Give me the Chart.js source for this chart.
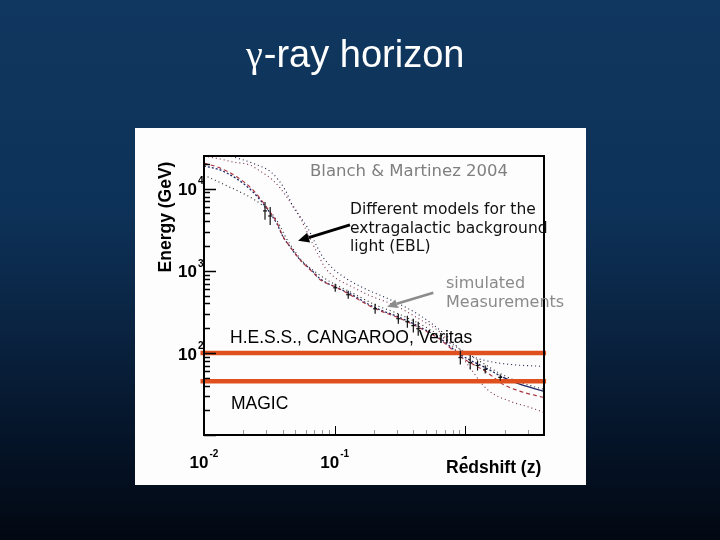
<!DOCTYPE html>
<html>
<head>
<meta charset="utf-8">
<script src="https://cdn.jsdelivr.net/npm/chart.js@4.4.1/dist/chart.umd.min.js"></script>
<style>
  html, body { margin: 0; padding: 0; background: #0a2340; }
  #wrap { position: relative; width: 720px; height: 540px; }
  canvas { position: absolute; left: 0; top: 0; }
</style>
</head>
<body>
<div id="wrap"><canvas id="c" width="720" height="540"></canvas></div>
<script>
// ---------------- DATA ----------------
const modelA_z = [0.01, 0.0133, 0.0179, 0.0237, 0.0304, 0.0362, 0.0403, 0.0456, 0.0544, 0.0684, 0.0774, 0.1045, 0.131, 0.197, 0.318, 0.428, 0.643, 0.916, 1.47, 1.95, 2.64, 4.0];
const modelA_E = [18900, 16900, 13100, 9120, 5670, 3720, 2590, 1960, 1360, 973, 800, 621, 526, 365, 268, 215, 149, 95.5, 64.4, 50.3, 41.3, 34.0];

const modelR_z = [0.01, 0.0133, 0.0179, 0.0237, 0.0304, 0.0362, 0.0403, 0.0456, 0.0544, 0.0684, 0.0774, 0.1045, 0.131, 0.197, 0.318, 0.428, 0.643, 0.916, 1.47, 1.95, 2.64, 4.0];
const modelR_E = [20500, 17850, 13870, 9640, 5830, 3830, 2590, 1960, 1360, 946, 778, 621, 511, 355, 261, 209, 145, 90.2, 57.6, 41.3, 34.0, 28.6];

const modelB_z = [0.01, 0.0158, 0.0246, 0.0332, 0.0418, 0.0481, 0.0544, 0.0615, 0.0709, 0.0802, 0.0957, 0.120, 0.171, 0.266, 0.452, 0.703, 0.916, 1.19, 1.55, 2.21, 4.0];
const modelB_E = [29500, 24900, 19900, 15500, 9640, 6000, 4530, 3425, 2190, 1520, 1087, 822, 604, 445, 284, 167, 110, 87.7, 78.5, 72.3, 68.4];

const modelC_z = [0.01, 0.0133, 0.0167, 0.0225, 0.0268, 0.0321, 0.0382, 0.0456, 0.0516, 0.0594, 0.0673, 0.0748, 0.0846, 0.101, 0.131, 0.187, 0.291, 0.452, 0.643, 0.838, 1.0, 1.47, 2.21, 3.15, 4.0];
const modelC_E = [24900, 22960, 21100, 19400, 16400, 13500, 10200, 6890, 5210, 3330, 2190, 1560, 1087, 822, 657, 497, 376, 254, 177, 110, 78.5, 35.9, 25.7, 21.6, 18.8];

const modelD_z = [0.01, 0.0145, 0.0217, 0.0278, 0.0332, 0.0382, 0.0424, 0.0481, 0.0563, 0.0709, 0.0924, 0.131, 0.204, 0.318, 0.540, 0.916, 1.30, 1.85, 2.64, 4.0];
const modelD_E = [14660, 11090, 8150, 6340, 4930, 3520, 2520, 1850, 1323, 973, 735, 556, 386, 292, 192, 110, 78.5, 56, 43.7, 35.9];

// simulated measurements: redshift, energy, low, high
const meas_z    = [0.0293, 0.0321, 0.101, 0.127, 0.204, 0.307, 0.360, 0.400, 0.436, 0.916, 1.09, 1.24, 1.42, 1.85];
const meas_E    = [5360, 4650, 621, 511, 345, 261, 240, 215, 197, 87.7, 76.2, 70.3, 62.9, 50.3];
const meas_Elo  = [4170, 3620, 556, 457, 300, 227, 203, 177, 162, 72.3, 62.9, 61, 56, 46];
const meas_Ehi  = [6890, 6000, 695, 571, 397, 300, 284, 261, 240, 107, 92.7, 80.7, 70.3, 54.7];

// experiment energy thresholds (GeV)
const thresholdE = [100, 45];
const thresholdZ = [0.0094, 4.15];

// axis ticks
const xTickValues = [0.01, 0.1, 1];
const xTickBase   = ['10', '10', '1'];
const xTickExp    = ['-2', '-1', ''];
const yTickValues = [10000, 1000, 100];
const yTickBase   = ['10', '10', '10'];
const yTickExp    = ['4', '3', '2'];

// annotation arrows (data coords): [z0, E0, z1, E1]
const arrowEBL  = [0.131, 3620, 0.0525, 2316];
const arrowMeas = [0.569, 541, 0.252, 365];

// ---------------- BUILD ----------------
const pts = (zs, es) => zs.map((z, i) => ({ x: z, y: es[i] }));
const SANS = '"Liberation Sans", Arial, sans-serif';
const VERD = '"DejaVu Sans", Verdana, sans-serif';

const bgPlugin = {
  id: 'bg',
  beforeDraw(chart) {
    const ctx = chart.ctx;
    const g = ctx.createLinearGradient(0, 0, 0, 540);
    g.addColorStop(0, '#10375f');
    g.addColorStop(0.38, '#0d3259');
    g.addColorStop(0.6, '#0a2442');
    g.addColorStop(0.8, '#05152a');
    g.addColorStop(1, '#020812');
    ctx.save();
    ctx.fillStyle = g;
    ctx.fillRect(0, 0, 720, 540);
    ctx.fillStyle = '#fdfdfd';
    ctx.fillRect(135, 128, 451, 357);
    // title
    ctx.fillStyle = '#ffffff';
    ctx.textBaseline = 'alphabetic';
    ctx.font = '38px "Liberation Serif", "DejaVu Serif", serif';
    const gw = ctx.measureText('γ').width;
    ctx.fillText('γ', 246, 67);
    ctx.font = '38px ' + SANS;
    ctx.fillText('-ray horizon', 246 + gw + 1, 67);
    ctx.restore();
  }
};

function arrow(ctx, xs, ys, a, color, lw, hl, hw) {
  const x0 = xs.getPixelForValue(a[0]), y0 = ys.getPixelForValue(a[1]);
  const x1 = xs.getPixelForValue(a[2]), y1 = ys.getPixelForValue(a[3]);
  const ang = Math.atan2(y1 - y0, x1 - x0);
  const bx = x1 - hl * Math.cos(ang), by = y1 - hl * Math.sin(ang);
  ctx.save();
  ctx.strokeStyle = color; ctx.fillStyle = color; ctx.lineWidth = lw;
  ctx.beginPath(); ctx.moveTo(x0, y0); ctx.lineTo(bx, by); ctx.stroke();
  ctx.beginPath();
  ctx.moveTo(x1, y1);
  ctx.lineTo(bx + hw * Math.sin(ang), by - hw * Math.cos(ang));
  ctx.lineTo(bx - hw * Math.sin(ang), by + hw * Math.cos(ang));
  ctx.closePath(); ctx.fill();
  ctx.restore();
}

const decoPlugin = {
  id: 'deco',
  afterDatasetsDraw(chart) {
    const ctx = chart.ctx, xs = chart.scales.x, ys = chart.scales.y, ca = chart.chartArea;
    ctx.save();
    // error bars
    ctx.strokeStyle = '#111'; ctx.lineWidth = 1.2;
    meas_z.forEach((z, i) => {
      const px = xs.getPixelForValue(z);
      const pl = ys.getPixelForValue(meas_Elo[i]);
      const ph = ys.getPixelForValue(meas_Ehi[i]);
      const pc = ys.getPixelForValue(meas_E[i]);
      ctx.beginPath(); ctx.moveTo(px, pl); ctx.lineTo(px, ph); ctx.stroke();
      ctx.beginPath(); ctx.moveTo(px - 2, pc); ctx.lineTo(px + 2, pc); ctx.stroke();
    });
    ctx.restore();
  },
  afterDraw(chart) {
    const ctx = chart.ctx, xs = chart.scales.x, ys = chart.scales.y, ca = chart.chartArea;
    ctx.save();
    // ticks (inside)
    ctx.strokeStyle = '#000'; ctx.lineWidth = 1.5;
    for (let d = 1; d <= 4; d++) {
      for (let m = 1; m <= 9; m++) {
        const v = m * Math.pow(10, d);
        if (v > ys.max) break;
        const py = Math.round(ys.getPixelForValue(v)) + 0.5;
        const len = (m === 1) ? 12 : 6;
        ctx.beginPath(); ctx.moveTo(ca.left, py); ctx.lineTo(ca.left + len, py); ctx.stroke();
      }
    }
    ctx.lineWidth = 1;
    for (let d = -2; d <= 0; d++) {
      for (let m = 1; m <= 9; m++) {
        const v = m * Math.pow(10, d);
        if (v > xs.max) break;
        const px = Math.round(xs.getPixelForValue(v)) + 0.5;
        const len = (m === 1) ? 9 : 5;
        ctx.strokeStyle = (m === 1) ? '#000' : '#999';
        ctx.beginPath(); ctx.moveTo(px, ca.bottom); ctx.lineTo(px, ca.bottom - len); ctx.stroke();
      }
    }
    // frame
    ctx.strokeStyle = '#000'; ctx.lineWidth = 2;
    ctx.strokeRect(ca.left, ca.top, ca.right - ca.left, ca.bottom - ca.top);

    // tick labels
    ctx.fillStyle = '#000';
    ctx.textBaseline = 'middle';
    yTickValues.forEach((v, i) => {
      const py = ys.getPixelForValue(v);
      ctx.font = 'bold 17px ' + SANS;
      ctx.textAlign = 'left';
      ctx.fillText(yTickBase[i], 178, py + 2);
      const w = ctx.measureText(yTickBase[i]).width;
      ctx.font = 'bold 10px ' + SANS;
      ctx.fillText(yTickExp[i], 178 + w + 1, py - 7);
    });
    xTickValues.forEach((v, i) => {
      const px = xs.getPixelForValue(v);
      ctx.font = 'bold 17px ' + SANS;
      const w = ctx.measureText(xTickBase[i]).width;
      ctx.font = 'bold 10px ' + SANS;
      const we = xTickExp[i] ? ctx.measureText(xTickExp[i]).width + 1 : 0;
      const x0 = px - (w + we) / 2;
      ctx.textAlign = 'left';
      ctx.font = 'bold 17px ' + SANS;
      ctx.fillText(xTickBase[i], x0, 463);
      if (xTickExp[i]) {
        ctx.font = 'bold 10px ' + SANS;
        ctx.fillText(xTickExp[i], x0 + w + 1, 454);
      }
    });

    // axis titles
    ctx.font = 'bold 17.5px ' + SANS;
    ctx.fillStyle = '#fdfdfd';
    ctx.fillRect(446, 459, 98, 18);
    ctx.fillStyle = '#000';
    ctx.textAlign = 'left';
    ctx.fillText('Redshift (z)', 446, 468);
    ctx.save();
    ctx.translate(166, 217);
    ctx.rotate(-Math.PI / 2);
    ctx.textAlign = 'center';
    ctx.fillText('Energy (GeV)', 0, 0);
    ctx.restore();

    // annotations
    ctx.textAlign = 'left';
    ctx.font = '16.5px ' + VERD;
    ctx.fillStyle = '#7f7f7f';
    ctx.fillText('Blanch & Martinez 2004', 310, 172);
    ctx.font = '15.5px ' + VERD;
    ctx.fillStyle = '#111';
    ctx.fillText('Different models for the', 350, 210);
    ctx.fillText('extragalactic background', 350, 229);
    ctx.fillText('light (EBL)', 350, 247);
    ctx.font = '16px ' + VERD;
    ctx.fillStyle = '#8a8a8a';
    ctx.fillText('simulated', 446, 284);
    ctx.fillText('Measurements', 446, 303);
    ctx.font = '17.5px ' + SANS;
    ctx.fillStyle = '#000';
    ctx.fillText('H.E.S.S., CANGAROO, Veritas', 230, 338);
    ctx.fillText('MAGIC', 231, 404);

    arrow(ctx, xs, ys, arrowEBL, '#000', 3, 11, 5);
    arrow(ctx, xs, ys, arrowMeas, '#8c8c8c', 2.5, 10, 4.5);
    ctx.restore();
  }
};

const lineDefaults = { showLine: true, pointRadius: 0, fill: false, tension: 0.35, cubicInterpolationMode: 'monotone' };

const datasets = [
  Object.assign({}, lineDefaults, { label: 'Threshold H.E.S.S./CANGAROO/Veritas', data: pts(thresholdZ, [thresholdE[0], thresholdE[0]]), borderColor: '#e0501e', borderWidth: 4.5, clip: false, tension: 0, order: 0 }),
  Object.assign({}, lineDefaults, { label: 'Threshold MAGIC', data: pts(thresholdZ, [thresholdE[1], thresholdE[1]]), borderColor: '#e0501e', borderWidth: 4.5, clip: false, tension: 0, order: 0 }),
  Object.assign({}, lineDefaults, { label: 'Model A', data: pts(modelA_z, modelA_E), borderColor: '#1c2466', borderWidth: 1.3, borderDash: [2, 2],
    segment: { borderDash: c => (c.p0.parsed.x >= 1.8 ? [] : [2, 2]) }, order: 2 }),
  Object.assign({}, lineDefaults, { label: 'Model R', data: pts(modelR_z, modelR_E), borderColor: '#a8303c', borderWidth: 1.1, borderDash: [4, 3], order: 1 }),
  Object.assign({}, lineDefaults, { label: 'Model B', data: pts(modelB_z, modelB_E), borderColor: '#1e1e4a', borderWidth: 1.1, borderDash: [1, 3], order: 3 }),
  Object.assign({}, lineDefaults, { label: 'Model C', data: pts(modelC_z, modelC_E), borderColor: '#7a2a48', borderWidth: 1.1, borderDash: [1, 3], order: 3 }),
  Object.assign({}, lineDefaults, { label: 'Model D', data: pts(modelD_z, modelD_E), borderColor: '#262626', borderWidth: 1.1, borderDash: [1, 3], order: 3 })
];

new Chart(document.getElementById('c'), {
  type: 'scatter',
  data: { datasets },
  options: {
    responsive: false,
    animation: false,
    devicePixelRatio: 1,
    layout: { padding: { left: 204, top: 156, right: 176, bottom: 105 } },
    plugins: { legend: { display: false }, tooltip: { enabled: false }, title: { display: false } },
    scales: {
      x: { type: 'logarithmic', min: 0.01, max: 4.0, ticks: { display: false }, grid: { display: false, drawTicks: false }, border: { display: false }, title: { display: false },
           afterFit: s => { s.height = 0; } },
      y: { type: 'logarithmic', min: 10, max: 25000, ticks: { display: false }, grid: { display: false, drawTicks: false }, border: { display: false }, title: { display: false },
           afterFit: s => { s.width = 0; } }
    }
  },
  plugins: [bgPlugin, decoPlugin]
});
</script>
</body>
</html>
